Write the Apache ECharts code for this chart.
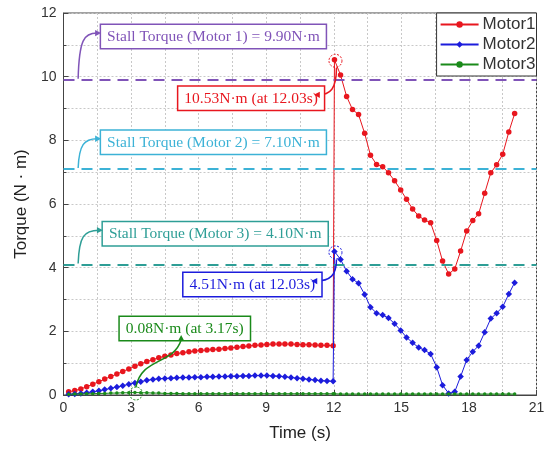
<!DOCTYPE html>
<html><head><meta charset="utf-8">
<script src="https://cdn.jsdelivr.net/npm/echarts@6/dist/echarts.min.js"></script>
<style>html,body{margin:0;padding:0;background:#fff}#c{width:553px;height:451px}</style>
</head><body><div id="c"></div>
<script>
// ---- data ----
const time = [0.23,0.5,0.77,1.03,1.3,1.57,1.83,2.1,2.37,2.63,2.9,3.17,3.43,3.7,3.97,4.23,4.5,4.77,5.03,5.3,5.57,5.83,6.1,6.37,6.63,6.9,7.17,7.43,7.7,7.97,8.23,8.5,8.77,9.03,9.3,9.57,9.83,10.1,10.37,10.63,10.9,11.17,11.43,11.7,11.97,
  12.03,12.3,12.57,12.83,13.1,13.37,13.63,13.9,14.17,14.43,14.7,14.97,15.23,15.5,15.77,16.03,16.3,16.57,16.83,17.1,17.37,17.63,17.9,18.17,18.43,18.7,18.97,19.23,19.5,19.77,20.03];
const motor1 = [0.1,0.14,0.19,0.26,0.34,0.42,0.5,0.58,0.66,0.74,0.82,0.9,0.98,1.05,1.11,1.17,1.22,1.26,1.3,1.33,1.36,1.38,1.4,1.41,1.43,1.44,1.46,1.48,1.5,1.52,1.54,1.56,1.57,1.59,1.6,1.6,1.6,1.6,1.59,1.58,1.58,1.57,1.56,1.56,1.55,
  10.53,10.05,9.38,8.97,8.81,8.22,7.53,7.24,7.17,6.98,6.73,6.44,6.15,5.84,5.62,5.5,5.41,4.85,4.21,3.8,3.96,4.52,5.15,5.48,5.69,6.34,6.98,7.23,7.56,8.26,8.84];
const motor2 = [0.02,0.03,0.05,0.07,0.1,0.13,0.17,0.21,0.25,0.29,0.34,0.38,0.42,0.46,0.49,0.51,0.52,0.53,0.54,0.55,0.55,0.56,0.56,0.57,0.57,0.58,0.58,0.59,0.59,0.6,0.6,0.61,0.61,0.61,0.6,0.59,0.57,0.55,0.53,0.51,0.49,0.47,0.45,0.44,0.43,
  4.51,4.26,3.89,3.64,3.51,3.16,2.76,2.57,2.51,2.42,2.24,2.03,1.81,1.64,1.49,1.41,1.29,0.87,0.31,0.05,0.1,0.58,1.1,1.36,1.55,1.97,2.4,2.57,2.77,3.17,3.53];
const motor3 = [0.02,0.03,0.03,0.04,0.04,0.05,0.05,0.06,0.06,0.07,0.07,0.08,0.07,0.07,0.06,0.06,0.05,0.05,0.05,0.04,0.04,0.04,0.04,0.04,0.04,0.04,0.04,0.04,0.04,0.04,0.04,0.04,0.04,0.04,0.04,0.04,0.04,0.04,0.04,0.04,0.04,0.04,0.04,0.04,0.04,
  0.04,0.03,0.03,0.03,0.03,0.03,0.03,0.03,0.03,0.03,0.03,0.03,0.03,0.03,0.03,0.03,0.03,0.03,0.03,0.03,0.03,0.03,0.03,0.03,0.03,0.03,0.03,0.03,0.03,0.03,0.03];
const seriesNames = ['Motor1','Motor2','Motor3'];
const stallValues = [9.90, 7.10, 4.10];
const stallLabels = ['Stall Torque (Motor 1) = 9.90N·m','Stall Torque (Motor 2) = 7.10N·m','Stall Torque (Motor 3) = 4.10N·m'];
const peakTimes = [12.03, 12.03, 3.17];
const peakValues = [10.53, 4.51, 0.08];
const peakLabels = ['10.53N·m (at 12.03s)','4.51N·m (at 12.03s)','0.08N·m (at 3.17s)'];
const xTicks = [0,3,6,9,12,15,18,21];
const yTicks = [0,2,4,6,8,10,12];

// ---- styles ----
const C = ['#e8161e','#1c1cdc','#1a8a1a'];
const SC = ['#8054b8','#3cb2d6','#2e9e96'];
const serif = '"Liberation Serif","Times New Roman",serif';
const sans = '"Liberation Sans",Arial,sans-serif';

function pairs(ys){ return time.map((t,i)=>[t, ys[i]]); }

const chart = echarts.init(document.getElementById('c'), null, {renderer:'canvas'});
const axisCommon = {
  axisLine:{onZero:false, lineStyle:{color:'#444', width:1}},
  axisTick:{inside:true, length:5, lineStyle:{color:'#444'}},
  minorTick:{show:true, splitNumber:2, length:3, lineStyle:{color:'#444'}},
  splitLine:{show:true, lineStyle:{type:[2,2], color:'#c8c8c8'}},
  minorSplitLine:{show:true, lineStyle:{type:[2,2], color:'#c8c8c8'}}
};
const option = {
  animation:false,
  backgroundColor:'#fff',
  grid:{left:63.5, right:16.5, top:13, bottom:56, show:true, borderColor:'#444', borderWidth:1, backgroundColor:'transparent'},
  xAxis:Object.assign({type:'value', min:xTicks[0], max:xTicks[xTicks.length-1], interval:3,
    name:'Time (s)', nameLocation:'middle', nameGap:30,
    nameTextStyle:{fontSize:17, color:'#222', fontFamily:sans}}, axisCommon,
    {axisLabel:{fontSize:14, color:'#333', fontFamily:sans, margin:6}}),
  yAxis:Object.assign({type:'value', min:yTicks[0], max:yTicks[yTicks.length-1], interval:2,
    name:'Torque (N · m)', nameLocation:'middle', nameGap:32,
    nameTextStyle:{fontSize:17, color:'#222', fontFamily:sans}}, axisCommon,
    {axisLabel:{fontSize:14, color:'#333', fontFamily:sans, margin:7}}),
  legend:{orient:'vertical', right:16.5, top:13,
    data:seriesNames.map(n=>({name:n})),
    backgroundColor:'#fff', borderColor:'#333', borderWidth:1, borderRadius:0,
    padding:[3,1,3,3], itemGap:3, itemWidth:38, itemHeight:8,
    textStyle:{fontSize:17, color:'#333', fontFamily:sans, padding:[0,0,0,-1]}},
  series:[
    {name:seriesNames[0], type:'line', data:pairs(motor1), symbol:'circle', symbolSize:5.5,
     lineStyle:{color:C[0], width:1}, itemStyle:{color:C[0]}, z:3,
     markLine:{silent:true, symbol:'none', animation:false, label:{show:false},
       data:stallValues.map((v,i)=>({yAxis:v, lineStyle:{color:SC[i], width:2, type:[11,7]}}))}},
    {name:seriesNames[1], type:'line', data:pairs(motor2), symbol:'diamond', symbolSize:6.5,
     lineStyle:{color:C[1], width:1}, itemStyle:{color:C[1]}, z:4},
    {name:seriesNames[2], type:'line', data:pairs(motor3), symbol:'circle', symbolSize:3.5,
     lineStyle:{color:C[2], width:1}, itemStyle:{color:C[2]}, z:5}
  ]
};
chart.setOption(option);

// ---- annotations (boxes, arrows, circles) anchored in data coordinates ----
const px = (t,v)=>chart.convertToPixel({gridIndex:0},[t,v]);
const boxFont = '15.5px ' + serif;
const boxPad = [4,6,3,6];
const stallBoxAnchor = [[1.67,11.62],[1.67,8.3],[1.75,5.43]];
const peakBoxAnchor = [[5.1,9.68],[5.33,3.83],[2.5,2.45]];
const g = [];
function box(anchor, text, color){
  const p = px(anchor[0], anchor[1]);
  return {type:'text', z:50, x:p[0], y:p[1], style:{text:text, font:boxFont, fill:color,
    backgroundColor:'#fff', borderColor:color, borderWidth:1.5, padding:boxPad}};
}
function arrowHead(x,y,dir,color){
  const L=6, W=3.2;
  const bx = x - L*Math.cos(dir), by = y - L*Math.sin(dir);
  const nx = -Math.sin(dir), ny = Math.cos(dir);
  return {type:'polygon', z:51, shape:{points:[[x,y],[bx+nx*W,by+ny*W],[bx-nx*W,by-ny*W]]}, style:{fill:color}};
}
function curve(p0,c1,c2,p3,color){
  return {type:'bezierCurve', z:49, shape:{x1:p0[0],y1:p0[1],cpx1:c1[0],cpy1:c1[1],cpx2:c2[0],cpy2:c2[1],x2:p3[0],y2:p3[1]},
    style:{stroke:color, lineWidth:1.5, fill:null}};
}
function textRect(text){
  const t = new echarts.graphic.Text({style:{text:text, font:boxFont, padding:boxPad}});
  return t.getBoundingRect();
}
stallValues.forEach((v,i)=>{
  const b = box(stallBoxAnchor[i], stallLabels[i], SC[i]);
  g.push(b);
  const r = textRect(stallLabels[i]);
  const s = px(0.65, v);
  const e = [b.x, b.y + r.height/2];
  g.push(curve([s[0], s[1]-1], [s[0]+1, e[1]+6], [s[0]+6, e[1]], [e[0]-4, e[1]], SC[i]));
  g.push(arrowHead(e[0], e[1], 0, SC[i]));
});
peakValues.forEach((v,i)=>{
  const c = px(peakTimes[i], v);
  g.push({type:'circle', z:52, shape:{cx:c[0]+1, cy:c[1]+1, r:6.5}, style:{fill:null, stroke:C[i], lineWidth:1, lineDash:[2,1.5]}});
  g.push(box(peakBoxAnchor[i], peakLabels[i], C[i]));
});
[0,1].forEach(i=>{
  const c = px(peakTimes[i], peakValues[i]);
  const a = px(peakBoxAnchor[i][0], peakBoxAnchor[i][1]);
  const r = textRect(peakLabels[i]);
  const e = [a[0] + r.width + 2, a[1] + r.height/2];
  g.push(curve([c[0]+2, c[1]+8], [c[0]+2, e[1]-6], [c[0]-4, e[1]], [e[0]+4, e[1]], C[i]));
  g.push(arrowHead(e[0], e[1], Math.PI, C[i]));
});
{
  const i = 2;
  const c = px(peakTimes[i], peakValues[i]);
  const a = px(peakBoxAnchor[i][0], peakBoxAnchor[i][1]);
  const r = textRect(peakLabels[i]);
  const e = [a[0] + r.width*0.52, a[1] + r.height + 2];
  g.push(curve([c[0]+1, c[1]-5], [c[0]+6, c[1]-35], [e[0]-8, e[1]+30], [e[0], e[1]+5], C[i]));
  g.push(arrowHead(e[0], e[1], -Math.PI/2, C[i]));
}
chart.setOption({graphic:g});
</script></body></html>
